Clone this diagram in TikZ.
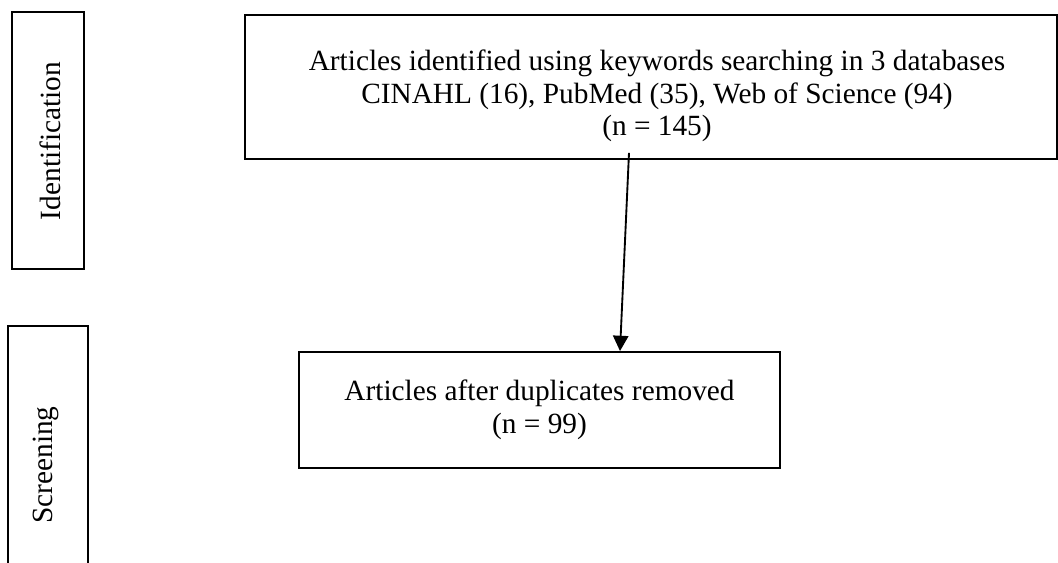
\documentclass[tikz,border=0pt]{standalone}
\usepackage{fontspec}
\setmainfont{Liberation Serif}
\usetikzlibrary{arrows.meta,calc}
\begin{document}
\begin{tikzpicture}[x=0.75pt,y=-0.75pt,
  frame/.style={draw,line width=1.4pt,inner sep=0pt},
  txt/.style={inner sep=0pt,align=center,font=\fontsize{22}{24.4}\selectfont},
  sidetxt/.style={inner sep=0pt,rotate=90,font=\fontsize{22}{24.4}\selectfont},
  flow/.style={line width=1.4pt,-{Triangle[length=11.5pt,width=11.5pt]}}]
\useasboundingbox (0,0) rectangle (1058,563);
\clip (0,0) rectangle (1058,563);
% side labels
\node[frame,minimum width=54pt,minimum height=192.75pt] (identbox) at (48,140.5) {};
\node[sidetxt] (identtxt) at (50,141) {Identification};
\draw[line width=1.4pt] (8,620) |- (88,326) -- (88,620);
\coordinate (screentop) at (48,326);
\node[sidetxt] (screentxt) at (46,465) {Screening};
% flow boxes
\node[frame,minimum width=609pt,minimum height=108pt] (top) at (651,87) {};
\node[txt] (toptxt) at (657,96) {Articles identified using keywords searching in 3 databases\\CINAHL (16), PubMed (35), Web of Science (94)\\(n = 145)};
\node[frame,minimum width=360.75pt,minimum height=87pt] (bot) at (539.5,410) {};
\node[txt] (bottxt) at (539.5,410) {Articles after duplicates removed\\(n = 99)};
% connector
\coordinate (a1) at ($(top.south)+(-22,-7)$);
\coordinate (a2) at ($(bot.north)+(80.5,0)$);
\draw[flow] (a1) -- (a2);
\end{tikzpicture}
\end{document}
